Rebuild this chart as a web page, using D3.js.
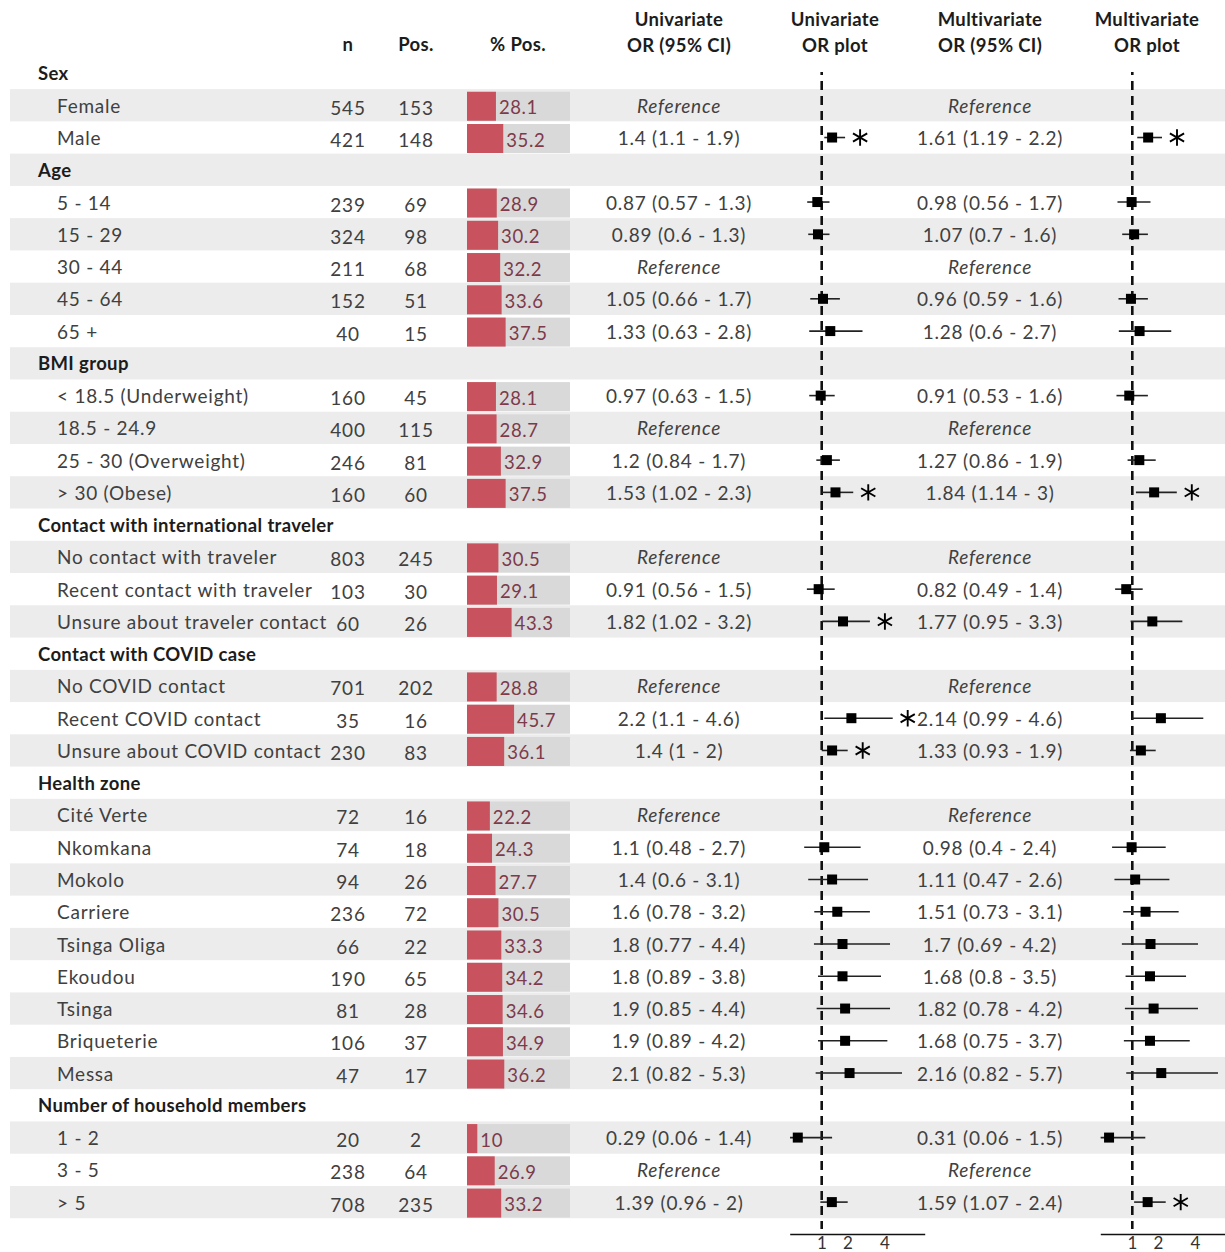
<!DOCTYPE html>
<html>
<head>
<meta charset="utf-8">
<script src="https://cdn.jsdelivr.net/npm/d3@7"></script>
<style>
  html, body { margin: 0; padding: 0; background: #fff; }
  svg { display: block; font-family: Lato, "Open Sans", sans-serif; }
</style>
</head>
<body>
<svg id="chart" width="1225" height="1252"></svg>
<script>
// Row labels; section rows are flagged in rowIsSection
const rowLabels = [
  "Sex", "Female", "Male",
  "Age", "5 - 14", "15 - 29", "30 - 44", "45 - 64", "65 +",
  "BMI group", "< 18.5 (Underweight)", "18.5 - 24.9", "25 - 30 (Overweight)", "> 30 (Obese)",
  "Contact with international traveler", "No contact with traveler", "Recent contact with traveler", "Unsure about traveler contact",
  "Contact with COVID case", "No COVID contact", "Recent COVID contact", "Unsure about COVID contact",
  "Health zone", "Cité Verte", "Nkomkana", "Mokolo", "Carriere", "Tsinga Oliga", "Ekoudou", "Tsinga", "Briqueterie", "Messa",
  "Number of household members", "1 - 2", "3 - 5", "> 5"
];
const rowIsSection = [
  1, 0, 0,
  1, 0, 0, 0, 0, 0,
  1, 0, 0, 0, 0,
  1, 0, 0, 0,
  1, 0, 0, 0,
  1, 0, 0, 0, 0, 0, 0, 0, 0, 0,
  1, 0, 0, 0
];
const nValues = [
  null, 545, 421,
  null, 239, 324, 211, 152, 40,
  null, 160, 400, 246, 160,
  null, 803, 103, 60,
  null, 701, 35, 230,
  null, 72, 74, 94, 236, 66, 190, 81, 106, 47,
  null, 20, 238, 708
];
const posValues = [
  null, 153, 148,
  null, 69, 98, 68, 51, 15,
  null, 45, 115, 81, 60,
  null, 245, 30, 26,
  null, 202, 16, 83,
  null, 16, 18, 26, 72, 22, 65, 28, 37, 17,
  null, 2, 64, 235
];
const pctValues = [
  null, 28.1, 35.2,
  null, 28.9, 30.2, 32.2, 33.6, 37.5,
  null, 28.1, 28.7, 32.9, 37.5,
  null, 30.5, 29.1, 43.3,
  null, 28.8, 45.7, 36.1,
  null, 22.2, 24.3, 27.7, 30.5, 33.3, 34.2, 34.6, 34.9, 36.2,
  null, 10, 26.9, 33.2
];
// Univariate odds ratios (null = reference level), with 95% CI and significance flag
const uniOR = [
  null, null, 1.4,
  null, 0.87, 0.89, null, 1.05, 1.33,
  null, 0.97, null, 1.2, 1.53,
  null, null, 0.91, 1.82,
  null, null, 2.2, 1.4,
  null, null, 1.1, 1.4, 1.6, 1.8, 1.8, 1.9, 1.9, 2.1,
  null, 0.29, null, 1.39
];
const uniLo = [
  null, null, 1.1,
  null, 0.57, 0.6, null, 0.66, 0.63,
  null, 0.63, null, 0.84, 1.02,
  null, null, 0.56, 1.02,
  null, null, 1.1, 1,
  null, null, 0.48, 0.6, 0.78, 0.77, 0.89, 0.85, 0.89, 0.82,
  null, 0.06, null, 0.96
];
const uniHi = [
  null, null, 1.9,
  null, 1.3, 1.3, null, 1.7, 2.8,
  null, 1.5, null, 1.7, 2.3,
  null, null, 1.5, 3.2,
  null, null, 4.6, 2,
  null, null, 2.7, 3.1, 3.2, 4.4, 3.8, 4.4, 4.2, 5.3,
  null, 1.4, null, 2
];
const uniSig = [
  0, 0, 1,
  0, 0, 0, 0, 0, 0,
  0, 0, 0, 0, 1,
  0, 0, 0, 1,
  0, 0, 1, 1,
  0, 0, 0, 0, 0, 0, 0, 0, 0, 0,
  0, 0, 0, 0
];
// Multivariate odds ratios
const multiOR = [
  null, null, 1.61,
  null, 0.98, 1.07, null, 0.96, 1.28,
  null, 0.91, null, 1.27, 1.84,
  null, null, 0.82, 1.77,
  null, null, 2.14, 1.33,
  null, null, 0.98, 1.11, 1.51, 1.7, 1.68, 1.82, 1.68, 2.16,
  null, 0.31, null, 1.59
];
const multiLo = [
  null, null, 1.19,
  null, 0.56, 0.7, null, 0.59, 0.6,
  null, 0.53, null, 0.86, 1.14,
  null, null, 0.49, 0.95,
  null, null, 0.99, 0.93,
  null, null, 0.4, 0.47, 0.73, 0.69, 0.8, 0.78, 0.75, 0.82,
  null, 0.06, null, 1.07
];
const multiHi = [
  null, null, 2.2,
  null, 1.7, 1.6, null, 1.6, 2.7,
  null, 1.6, null, 1.9, 3,
  null, null, 1.4, 3.3,
  null, null, 4.6, 1.9,
  null, null, 2.4, 2.6, 3.1, 4.2, 3.5, 4.2, 3.7, 5.7,
  null, 1.5, null, 2.4
];
const multiSig = [
  0, 0, 1,
  0, 0, 0, 0, 0, 0,
  0, 0, 0, 0, 1,
  0, 0, 0, 0,
  0, 0, 0, 0,
  0, 0, 0, 0, 0, 0, 0, 0, 0, 0,
  0, 0, 0, 1
];
const orTicks = [1, 2, 4];

// ---- layout ----
const svg = d3.select("#chart");
const rowStep = 32.26, firstRowY = 73;
const rowIdx = d3.range(rowLabels.length);
const y = d3.scaleLinear().domain([0, 1]).range([firstRowY, firstRowY + rowStep]);

const col = { label: 38, indent: 57, n: 348, pos: 416, bar: 467, uniText: 679, uniPlot: 821.7, multiText: 990, multiPlot: 1132.3 };
const barW = 103, barH = 29;
const pctScale = d3.scaleLinear().domain([0, 100]).range([0, barW]);

// Odds-ratio axis: compressed above 1, clamped at the lower end
function orScale(refX) {
  return d3.scaleLinear()
    .domain([0.05, 1, 2, 4, 7])
    .range([refX - 32, refX, refX + 26, refX + 63, refX + 103])
    .clamp(true);
}
const xUni = orScale(col.uniPlot);
const xMulti = orScale(col.multiPlot);

const textCol = "#404040", headCol = "#1c1c1c";
const bodySize = 19, bodySpacing = 0.75;
const headSize = 18.5, headSpacing = 0.35;

// zebra bands
svg.append("g").selectAll("rect")
  .data(rowIdx.filter(i => i % 2 === 1))
  .join("rect")
  .attr("x", 10).attr("width", 1215)
  .attr("y", i => y(i) - rowStep / 2).attr("height", rowStep)
  .attr("fill", "#ececec");

// column headers
const headers = [
  { x: col.n, lines: ["n"] },
  { x: col.pos, lines: ["Pos."] },
  { x: 518, lines: ["% Pos."] },
  { x: col.uniText, lines: ["Univariate", "OR (95% CI)"] },
  { x: 835, lines: ["Univariate", "OR plot"] },
  { x: col.multiText, lines: ["Multivariate", "OR (95% CI)"] },
  { x: 1147, lines: ["Multivariate", "OR plot"] }
];
const hg = svg.append("g").attr("font-weight", 700).attr("font-size", headSize)
  .attr("letter-spacing", headSpacing).attr("fill", headCol).attr("text-anchor", "middle");
headers.forEach(h => {
  const t = hg.append("text").attr("x", h.x);
  const startY = h.lines.length === 2 ? 19 : 44;
  h.lines.forEach((s, k) => {
    t.append("tspan").attr("x", h.x).attr("y", startY + k * 26).attr("dominant-baseline", "central").text(s);
  });
});

// row labels
svg.append("g").selectAll("text")
  .data(rowIdx)
  .join("text")
  .attr("x", i => rowIsSection[i] ? col.label : col.indent)
  .attr("y", i => y(i))
  .attr("dominant-baseline", "central")
  .attr("font-size", i => rowIsSection[i] ? headSize : bodySize)
  .attr("letter-spacing", i => rowIsSection[i] ? headSpacing : bodySpacing)
  .attr("font-weight", i => rowIsSection[i] ? 700 : 400)
  .attr("fill", i => rowIsSection[i] ? headCol : textCol)
  .text(i => rowLabels[i]);

const items = rowIdx.filter(i => !rowIsSection[i]);

// n and Pos. columns
[[nValues, col.n], [posValues, col.pos]].forEach(([vals, cx]) => {
  svg.append("g").selectAll("text")
    .data(items)
    .join("text")
    .attr("x", cx).attr("y", i => y(i) + 2)
    .attr("text-anchor", "middle").attr("dominant-baseline", "central")
    .attr("font-size", bodySize).attr("letter-spacing", bodySpacing).attr("fill", textCol)
    .text(i => vals[i]);
});

// % Pos. bars
const bars = svg.append("g").selectAll("g").data(items).join("g");
bars.append("rect")
  .attr("x", col.bar).attr("width", barW)
  .attr("y", i => y(i) - barH / 2 + 1).attr("height", barH)
  .attr("fill", "#d9d9d9");
bars.append("rect")
  .attr("x", col.bar).attr("width", i => pctScale(pctValues[i]))
  .attr("y", i => y(i) - barH / 2 + 1).attr("height", barH)
  .attr("fill", "#c8525d");
bars.append("text")
  .attr("x", i => col.bar + pctScale(pctValues[i]) + 3)
  .attr("y", i => y(i) + 2)
  .attr("dominant-baseline", "central")
  .attr("font-size", 18.5).attr("letter-spacing", 0.6).attr("fill", "#7d3a4b")
  .text(i => pctValues[i]);

// OR text columns
function orText(or, lo, hi, i) {
  return or[i] == null ? "Reference" : `${or[i]} (${lo[i]} - ${hi[i]})`;
}
[[uniOR, uniLo, uniHi, col.uniText], [multiOR, multiLo, multiHi, col.multiText]].forEach(([or, lo, hi, cx]) => {
  svg.append("g").selectAll("text")
    .data(items)
    .join("text")
    .attr("x", cx).attr("y", i => y(i))
    .attr("text-anchor", "middle").attr("dominant-baseline", "central")
    .attr("font-size", bodySize).attr("letter-spacing", bodySpacing).attr("fill", textCol)
    .attr("font-style", i => or[i] == null ? "italic" : "normal")
    .text(i => orText(or, lo, hi, i));
});

// forest plots
const plotTop = 72, axisY = 1234;
const asterisk = d3.symbol(d3.symbolAsterisk, 190);
[[xUni, uniOR, uniLo, uniHi, uniSig, col.uniPlot], [xMulti, multiOR, multiLo, multiHi, multiSig, col.multiPlot]].forEach(([xs, or, lo, hi, sig, refX]) => {
  const g = svg.append("g");
  g.append("line")
    .attr("x1", refX).attr("x2", refX)
    .attr("y1", plotTop).attr("y2", axisY - 5)
    .attr("stroke", "#111").attr("stroke-width", 2.6)
    .attr("stroke-dasharray", "9,6").attr("stroke-dashoffset", 6);

  const est = items.filter(i => or[i] != null);
  g.selectAll("line.ci").data(est).join("line")
    .attr("class", "ci")
    .attr("x1", i => xs(lo[i])).attr("x2", i => xs(hi[i]))
    .attr("y1", i => y(i)).attr("y2", i => y(i))
    .attr("stroke", "#222").attr("stroke-width", 1.6);
  g.selectAll("rect.pt").data(est).join("rect")
    .attr("class", "pt")
    .attr("x", i => xs(or[i]) - 5).attr("y", i => y(i) - 5)
    .attr("width", 10).attr("height", 10)
    .attr("fill", "#000");
  g.selectAll("path.sig").data(est.filter(i => sig[i])).join("path")
    .attr("class", "sig")
    .attr("transform", i => `translate(${xs(hi[i]) + 15},${y(i)})`)
    .attr("d", asterisk)
    .attr("fill", "none").attr("stroke", "#000").attr("stroke-width", 1.9);

  const ax = g.append("g")
    .attr("transform", `translate(0,${axisY})`)
    .call(d3.axisBottom(xs).tickValues(orTicks).tickSize(0).tickPadding(3).tickFormat(d3.format("d")));
  ax.select(".domain").attr("stroke", "#111").attr("stroke-width", 1.6);
  ax.selectAll("text").attr("font-size", 17).attr("letter-spacing", 0.5)
    .attr("font-family", "Lato, sans-serif").attr("fill", "#333");
});
</script>
</body>
</html>
